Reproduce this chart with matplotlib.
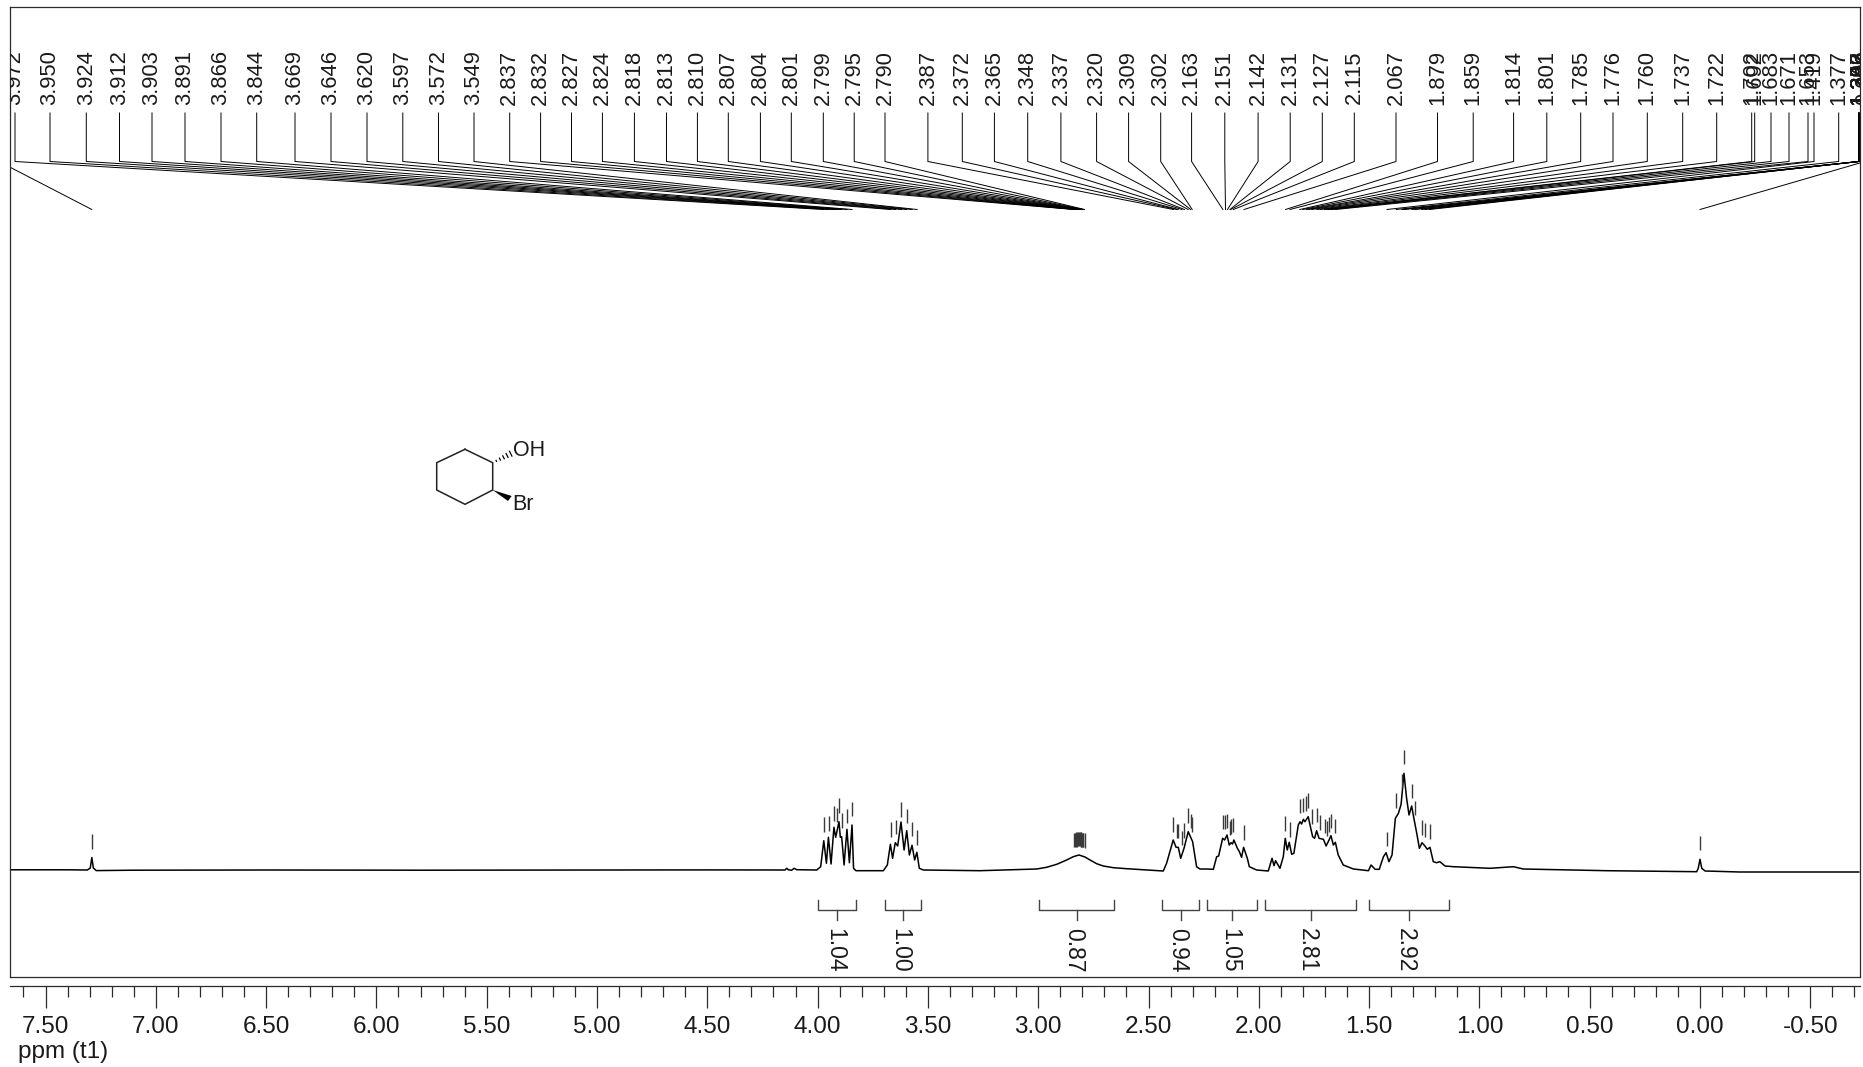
import numpy as np
import matplotlib
matplotlib.use('Agg')
import matplotlib.pyplot as plt
from matplotlib.ticker import MultipleLocator, FormatStrFormatter
from matplotlib.patches import Polygon

plt.rcParams['font.family'] = ['Liberation Sans', 'DejaVu Sans']
plt.rcParams['axes.unicode_minus'] = False

# spectrum trace: ppm / height above baseline
trace_ppm = [7.663, 7.40, 7.31, 7.297, 7.29, 7.283, 7.27, 7.10, 6.50, 5.80, 5.00, 4.50, 4.171, 4.148, 4.140, 4.133, 4.118, 4.107, 4.095,
             4.004, 3.986, 3.972, 3.960, 3.951, 3.939, 3.926, 3.918, 3.911, 3.903, 3.897, 3.891, 3.880, 3.867, 3.856, 3.844, 3.837, 3.826,
             3.702, 3.684, 3.670, 3.660, 3.648, 3.637, 3.622, 3.608, 3.596, 3.584, 3.572, 3.560, 3.550, 3.539, 3.521,
             3.264, 3.007, 2.962, 2.916, 2.871, 2.841, 2.815, 2.788, 2.765, 2.735, 2.705, 2.659, 2.599, 2.508, 2.433,
             2.418, 2.388, 2.375, 2.365, 2.354, 2.339, 2.320, 2.300, 2.282, 2.267, 2.236, 2.206,
             2.191, 2.182, 2.164, 2.155, 2.144, 2.134, 2.126, 2.119, 2.113, 2.097, 2.088, 2.078, 2.069, 2.052, 2.043, 2.010,
             1.957, 1.940, 1.931, 1.924, 1.904, 1.889, 1.880, 1.871, 1.862, 1.851, 1.841, 1.821, 1.813, 1.806, 1.798, 1.791, 1.776,
             1.756, 1.747, 1.738, 1.727, 1.707, 1.695, 1.683, 1.673, 1.662, 1.653, 1.640, 1.617, 1.571, 1.503,
             1.491, 1.473, 1.454, 1.435, 1.423, 1.410, 1.396, 1.381, 1.367, 1.355, 1.342, 1.330, 1.319, 1.307, 1.297, 1.284,
             1.272, 1.260, 1.247, 1.236, 1.224, 1.209, 1.194, 1.179, 1.156, 1.118, 0.952, 0.884, 0.846, 0.801, 0.423,
             0.015, 0.008, 0.000, -0.008, -0.023, -0.181, -0.72]
trace_h = [0.2, 0.2, 0.0, 2.0, 12.5, 2.0, -0.6, -0.2, 0.0, -0.2, 0.0, 0.1, 0.0, 0.0, 1.7, 0.3, -0.3, 1.7, 0.3,
           0.0, 3.3, 29.3, 6.7, 32.7, 6.0, 42.7, 32.7, 40.0, 48.3, 32.7, 33.3, 5.0, 40.7, 7.3, 45.0, 1.7, -0.7,
           -0.7, 5.0, 25.7, 11.7, 27.3, 24.0, 48.0, 20.0, 39.3, 15.0, 24.7, 10.0, 17.7, 1.7, 0.0,
           -0.7, 1.0, 2.7, 5.7, 10.0, 13.3, 15.0, 13.0, 10.0, 6.3, 4.0, 2.3, 1.3, 0.0, -1.0,
           6.7, 30.0, 22.7, 22.7, 11.7, 21.7, 38.3, 28.3, 3.3, 1.0, 1.0, 0.7,
           13.3, 14.0, 31.7, 30.0, 35.0, 25.0, 27.3, 26.0, 30.0, 21.7, 18.3, 12.7, 22.7, 11.7, 3.3, 0.0,
           -1.0, 11.7, 4.3, 9.3, 1.7, 13.3, 31.7, 20.0, 27.7, 15.7, 16.7, 45.0, 48.3, 46.0, 50.7, 48.3, 53.3,
           33.3, 31.7, 39.3, 31.7, 30.7, 24.0, 29.3, 34.3, 25.0, 27.7, 15.0, 5.0, 1.0, -0.7,
           5.0, 0.7, 0.7, 13.3, 17.3, 8.3, 15.0, 51.7, 56.7, 65.7, 96.7, 71.7, 55.0, 64.0, 51.7, 36.7,
           21.7, 27.3, 24.0, 20.7, 22.7, 8.3, 7.3, 8.3, 4.0, 3.3, 1.7, 2.7, 3.3, 1.0, -0.7,
           -1.7, 1.7, 10.7, 1.7, -1.0, -2.0, -2.0]

# picked peaks, ppm, in the order they are listed across the top
peak_ppm = [7.290, 3.972, 3.950, 3.924, 3.912, 3.903, 3.891, 3.866, 3.844, 3.669, 3.646, 3.620, 3.597, 3.572, 3.549,
            2.837, 2.832, 2.827, 2.824, 2.818, 2.813, 2.810, 2.807, 2.804, 2.801, 2.799, 2.795, 2.790,
            2.387, 2.372, 2.365, 2.348, 2.337, 2.320, 2.309, 2.302,
            2.163, 2.151, 2.142, 2.131, 2.127, 2.115, 2.067,
            1.879, 1.859, 1.814, 1.801, 1.785, 1.776, 1.760, 1.737, 1.722, 1.702, 1.692, 1.683, 1.671, 1.653,
            1.419, 1.377, 1.352, 1.342, 1.306, 1.292, 1.262, 1.247, 1.226, 0.000]

# where each peak label sits along the top, in image pixels
label_x = [-1, 15, 50, 86.3, 119.5, 152, 185, 221, 256.7, 295, 331, 367, 402.8, 438.5, 474,
           509.7, 540.6, 571.5, 602.4, 634.4, 666.5, 697.4, 728.3, 760.4, 791.3, 823.3, 854.2, 885,
           927.9, 962.3, 994.4, 1027.7, 1060.9, 1096.6, 1128.6, 1160.7,
           1191.6, 1224.8, 1258.1, 1290.2, 1322.3, 1354.3, 1396,
           1437.5, 1473.2, 1513.6, 1546.8, 1580.7, 1613, 1647.3, 1682.7, 1716.7, 1751.7, 1754.7, 1771, 1789, 1808,
           1814, 1838.7, 1858.6, 1858.7, 1858.8, 1858.9, 1859, 1859.1, 1859.2, 1865]

# integral regions
int_left = [3.997, 3.693, 2.995, 2.437, 2.233, 1.970, 1.502]
int_right = [3.824, 3.533, 2.656, 2.270, 2.007, 1.558, 1.138]
int_values = ['1.04', '1.00', '0.87', '0.94', '1.05', '2.81', '2.92']

W, H = 1863, 1067
X0, X1, Y0, Y1 = 9.5, 1859.5, 7, 977   # frame in image pixels
BASE = 870                             # baseline row
PPM_L, PPM_R = (1700 - X0) / 220.6, (1700 - X1) / 220.6
INK = '#2b2b2b'


def px_to_ppm(x):
    return PPM_L + (x - X0) * (PPM_R - PPM_L) / (X1 - X0)


def h_of(y):
    return BASE - y


fig = plt.figure(figsize=(W / 100, H / 100), dpi=100)
ax = fig.add_axes([X0 / W, 1 - Y1 / H, (X1 - X0) / W, (Y1 - Y0) / H])
ax.set_xlim(PPM_L, PPM_R)
ax.set_ylim(h_of(Y1), h_of(Y0))
ax.set_xticks([])
ax.set_yticks([])
for s in ax.spines.values():
    s.set_color(INK)
    s.set_linewidth(0.9)

ax.plot(trace_ppm, trace_h, color='black', lw=1.1, solid_joinstyle='round')

# peak picking: short tick over the trace, leader up to the rotated label
for p, lx in zip(peak_ppm, label_x):
    top = np.interp(-p, -np.array(trace_ppm), trace_h)
    ax.plot([p, p], [top + 9, top + 23.5], color='#3a3a3a', lw=1.0, solid_capstyle='butt')
    lp = px_to_ppm(lx)
    ax.plot([p, lp, lp], [h_of(209.5), h_of(161.5), h_of(113)], color='black', lw=0.7)
    ax.text(lp, h_of(77.5), '%.3f' % p, rotation=90, ha='center', va='center', fontsize=15.8,
            color='#1a1a1a', clip_on=True)

# integrals
for a, b, v in zip(int_left, int_right, int_values):
    m = (a + b) / 2
    ax.plot([a, a, b, b], [h_of(900.3), h_of(910.3), h_of(910.3), h_of(900.3)], color='#444444', lw=1.0)
    ax.plot([m, m], [h_of(910.3), h_of(920)], color='#444444', lw=1.0)
    ax.text(px_to_ppm(1700 - m * 220.6 - 3), h_of(950), v, rotation=-90, ha='center', va='center',
            fontsize=16.5, color='#1a1a1a')

# ppm axis under the frame
ax2 = fig.add_axes([X0 / W, 1 - 986 / H, (X1 - X0) / W, 0.001])
ax2.patch.set_visible(False)
ax2.set_xlim(PPM_L, PPM_R)
ax2.set_yticks([])
for name in ['top', 'left', 'right']:
    ax2.spines[name].set_visible(False)
ax2.spines['bottom'].set_color(INK)
ax2.spines['bottom'].set_linewidth(0.9)
ax2.xaxis.set_major_locator(MultipleLocator(0.5))
ax2.xaxis.set_minor_locator(MultipleLocator(0.1))
ax2.xaxis.set_major_formatter(FormatStrFormatter('%.2f'))
ax2.tick_params(axis='x', which='major', length=15.8, width=0.9, color=INK, pad=6, labelsize=17.5, labelcolor='#1a1a1a')
ax2.tick_params(axis='x', which='minor', length=8, width=0.9, color=INK)

# overlay in image pixels for the structure and the axis caption
over = fig.add_axes([0, 0, 1, 1])
over.set_xlim(0, W)
over.set_ylim(H, 0)
over.axis('off')
over.patch.set_visible(False)

ring_x = [465, 492.7, 492.7, 465, 436.7, 436.7, 465]
ring_y = [449.3, 462.7, 490, 504.3, 490, 462.7, 449.3]
over.plot(ring_x, ring_y, color='#222222', lw=1.1)
over.add_patch(Polygon([(492.7, 490), (508, 501), (511.7, 496)], closed=True, color='black', lw=0))
for f in [0.2, 0.4, 0.6, 0.8, 1.0]:
    cx, cy = 492.7 + f * 18, 462.7 - f * 9
    dx, dy = 0.8 * f * 1.5, 1.6 * f * 1.5
    over.plot([cx - dx, cx + dx], [cy - dy, cy + dy], color='black', lw=0.9)
over.text(513, 450.7, 'OH', ha='left', va='center', fontsize=15.5, color='#1a1a1a')
over.text(512, 505, 'Br', ha='left', va='center', fontsize=15.5, color='#1a1a1a')
over.text(18, 1052, 'ppm (t1)', ha='left', va='center', fontsize=17.5, color='#1a1a1a')

fig.savefig('out.png', dpi=100)
